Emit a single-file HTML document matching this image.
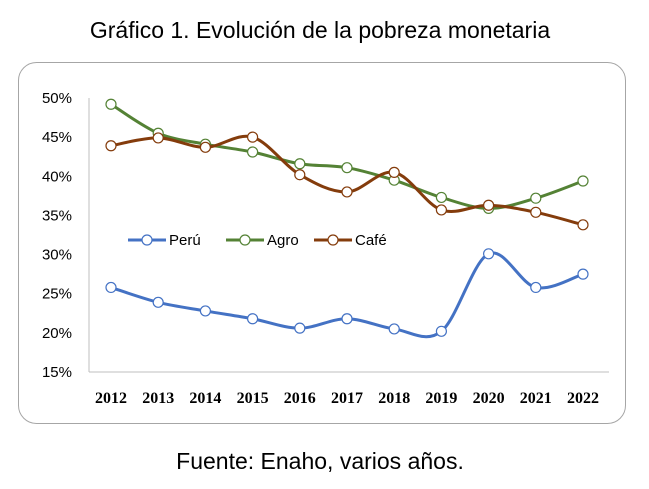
<!DOCTYPE html>
<html><head><meta charset="utf-8"><style>
html,body{margin:0;padding:0;background:#fff;}
svg{display:block;font-family:"Liberation Sans",sans-serif;}
</style></head><body>
<svg id="c" width="649" height="489">
<text x="320" y="38" text-anchor="middle" font-size="23" fill="#000">Gráfico 1. Evolución de la pobreza monetaria</text>
<rect x="18.5" y="62.5" width="607" height="361" rx="18" fill="#fff" stroke="#a6a6a6"/>
<text x="320" y="469" text-anchor="middle" font-size="23" fill="#000">Fuente: Enaho, varios años.</text>
<g id="g"></g>
</svg>
<script>
const years=["2012","2013","2014","2015","2016","2017","2018","2019","2020","2021","2022"];
const peru=[25.8,23.9,22.8,21.8,20.6,21.8,20.5,20.2,30.1,25.8,27.5];
const agro=[49.2,45.5,44.1,43.1,41.6,41.1,39.5,37.3,35.9,37.2,39.4];
const cafe=[43.9,44.9,43.7,45.0,40.2,38.0,40.5,35.7,36.3,35.4,33.8];
const yTicks=[15,20,25,30,35,40,45,50];
const NS="http://www.w3.org/2000/svg";
const g=document.getElementById('g');
const x=i=>111+i*47.2;
const y=v=>372-(v-15)*(274/35);
function el(t,a){const e=document.createElementNS(NS,t);for(const k in a)e.setAttribute(k,a[k]);g.appendChild(e);return e;}
let ax=el('line',{x1:89,y1:98,x2:89,y2:372,stroke:'#bfbfbf'});


let bx=el('line',{x1:89,y1:372,x2:609,y2:372,stroke:'#bfbfbf'});


yTicks.forEach(v=>{const t=el('text',{x:72,y:y(v)+5,'text-anchor':'end','font-size':15,fill:'#000'});t.textContent=v+'%';

});
years.forEach((yr,i)=>{const t=el('text',{x:x(i),y:403,'text-anchor':'middle','font-size':16,'font-weight':'bold',fill:'#000','font-family':'"Liberation Serif",serif'});t.textContent=yr;

});
function path(vals){const p=vals.map((v,i)=>[x(i),y(v)]);let d='M'+p[0];
for(let i=0;i<p.length-1;i++){const p0=p[i-1]||p[i],p1=p[i],p2=p[i+1],p3=p[i+2]||p2;const k=1/6;
d+=` C${p1[0]+(p2[0]-p0[0])*k},${p1[1]+(p2[1]-p0[1])*k} ${p2[0]-(p3[0]-p1[0])*k},${p2[1]-(p3[1]-p1[1])*k} ${p2[0]},${p2[1]}`;}return d;}
const series=[[peru,'#4472c4','peru'],[agro,'#548235','agro'],[cafe,'#843c0c','cafe']];
series.forEach(([vals,col,nm])=>{const l=el('path',{d:path(vals),fill:'none',stroke:col,'stroke-width':3});


vals.forEach((v,i)=>{const c=el('circle',{cx:x(i),cy:y(v),r:5,fill:'#fff',stroke:col,'stroke-width':1.2});

});});
const leg=[['Perú','#4472c4',128],['Agro','#548235',226],['Café','#843c0c',314]];
leg.forEach(([n,col,lx])=>{el('line',{x1:lx,y1:240,x2:lx+38,y2:240,stroke:col,'stroke-width':3});
el('circle',{cx:lx+19,cy:240,r:5,fill:'#fff',stroke:col,'stroke-width':1.2});
const t=el('text',{x:lx+41,y:245,'font-size':15,fill:'#000'});t.textContent=n;

});
</script>
</body></html>
